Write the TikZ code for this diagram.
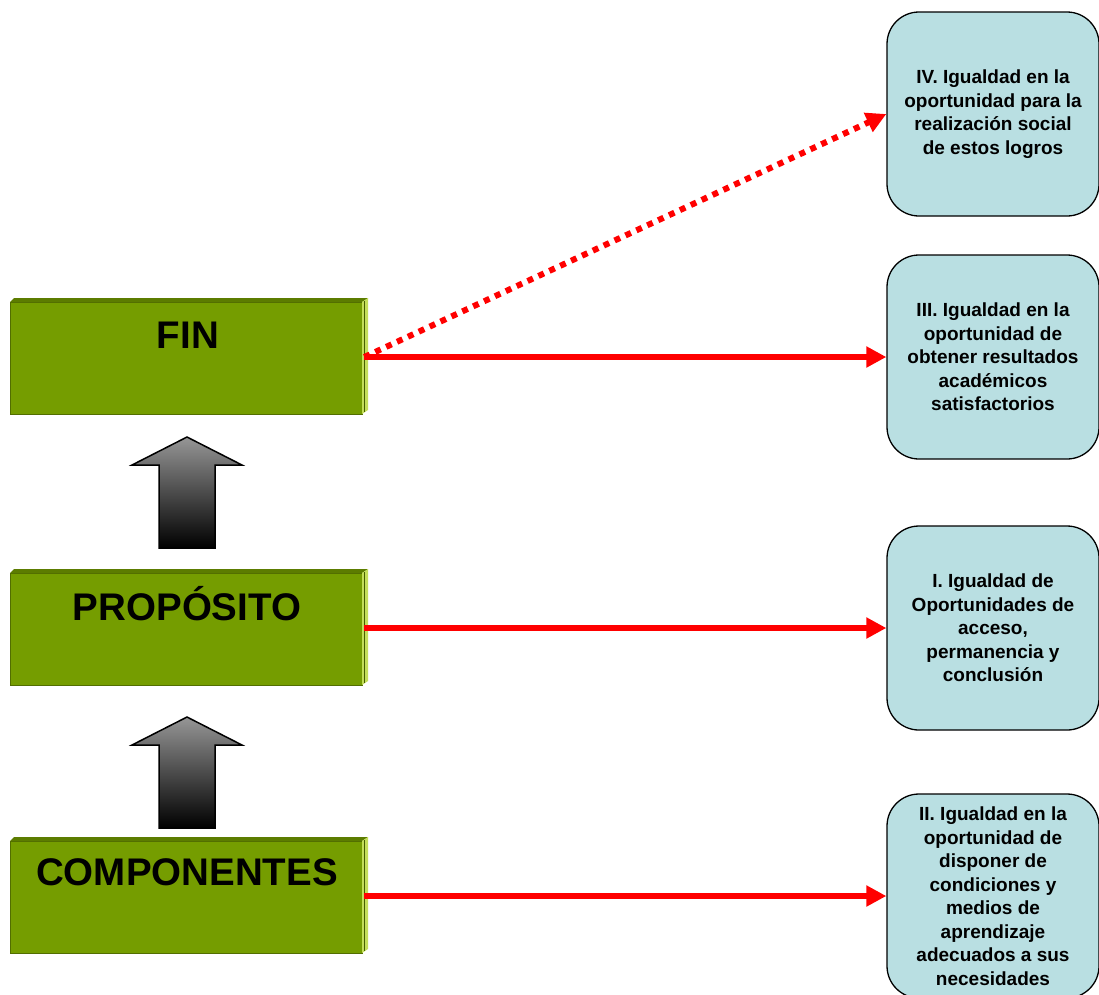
\documentclass[tikz,border=0pt]{standalone}
\usepackage{fontspec}
\setmainfont{Liberation Sans}
\usetikzlibrary{arrows.meta,calc}
\definecolor{gface}{RGB}{117,157,0}
\definecolor{gtopc}{RGB}{92,124,0}
\definecolor{gsidec}{RGB}{196,222,90}
\definecolor{bluef}{RGB}{185,223,226}
\definecolor{redc}{RGB}{255,0,0}
\tikzset{
  gbox/.style={rectangle, fill=gface, draw=gface!70!black, line width=0.8pt, minimum width=352pt, minimum height=112pt, inner sep=0pt},
  gtext/.style={font=\fontsize{38.5}{42}\selectfont\bfseries, text=black, inner sep=0pt},
  bbox/.style={rectangle, rounded corners=32pt, fill=bluef, draw=black, line width=1.3pt, minimum width=212pt, minimum height=204pt, align=center, inner sep=0pt, font=\fontsize{19}{23.5}\selectfont\bfseries},
  redarrow/.style={draw=redc, line width=6pt, -{Triangle[length=20pt,width=20pt]}},
  reddot/.style={redarrow, dash pattern=on 6pt off 6pt},
  uparrow/.style={draw=black, line width=1.5pt, top color={rgb,255:red,150;green,150;blue,150}, bottom color=black},
}
\newcommand\greenbox[2]{%
  \node[gbox] (#1) at (186,#2+60) {};
  \fill[gtopc] (10,#2+4) -- (14,#2) -- (368,#2) -- (362,#2+4) -- cycle;
  \fill[gsidec] (362,#2+4) -- (368,#2) -- (368,#2+112) -- (362,#2+116) -- cycle;
  \draw[gface!60!black, line width=0.8pt] (364.5,#2+2.5) -- (364.5,#2+114);
}
\begin{document}
\begin{tikzpicture}[x=1pt,y=-1pt]
\useasboundingbox (0,0) rectangle (1099,994);
% green boxes
\greenbox{fin}{298}
\node[gtext] (fint) at (188,335) {FIN};
\greenbox{prop}{569}
\node[gtext] (propt) at (187,604) {PROPÓSITO};
\greenbox{comp}{837}
\node[gtext] (compt) at (187,872) {COMPONENTES};
% up arrows
\path[uparrow] (187,437) -- (242,465) -- (215,465) -- (215,548) -- (159,548) -- (159,465) -- (132,465) -- cycle;
\path[uparrow] (187,717) -- (242,745) -- (215,745) -- (215,828) -- (159,828) -- (159,745) -- (132,745) -- cycle;
% blue boxes
\node[bbox] (b4) at (993,114) {IV. Igualdad en la\\oportunidad para la\\realización social\\de estos logros};
\node[bbox] (b3) at (993,357) {III. Igualdad en la\\oportunidad de\\obtener resultados\\académicos\\satisfactorios};
\node[bbox] (b1) at (993,628) {I. Igualdad de\\Oportunidades de\\acceso,\\permanencia y\\conclusión};
\node[bbox] (b2) at (993,896) {II. Igualdad en la\\oportunidad de\\disponer de\\condiciones y\\medios de\\aprendizaje\\adecuados a sus\\necesidades};
% connectors
\draw[reddot] ($(fin.east)+(2,-1)$) -- (b4.west);
\draw[redarrow] ($(fin.east)+(2,-1)$) -- (b3.west);
\draw[redarrow] ($(prop.east)+(2,-1)$) -- (b1.west);
\draw[redarrow] ($(comp.east)+(2,-1)$) -- (b2.west);
\end{tikzpicture}
\end{document}
